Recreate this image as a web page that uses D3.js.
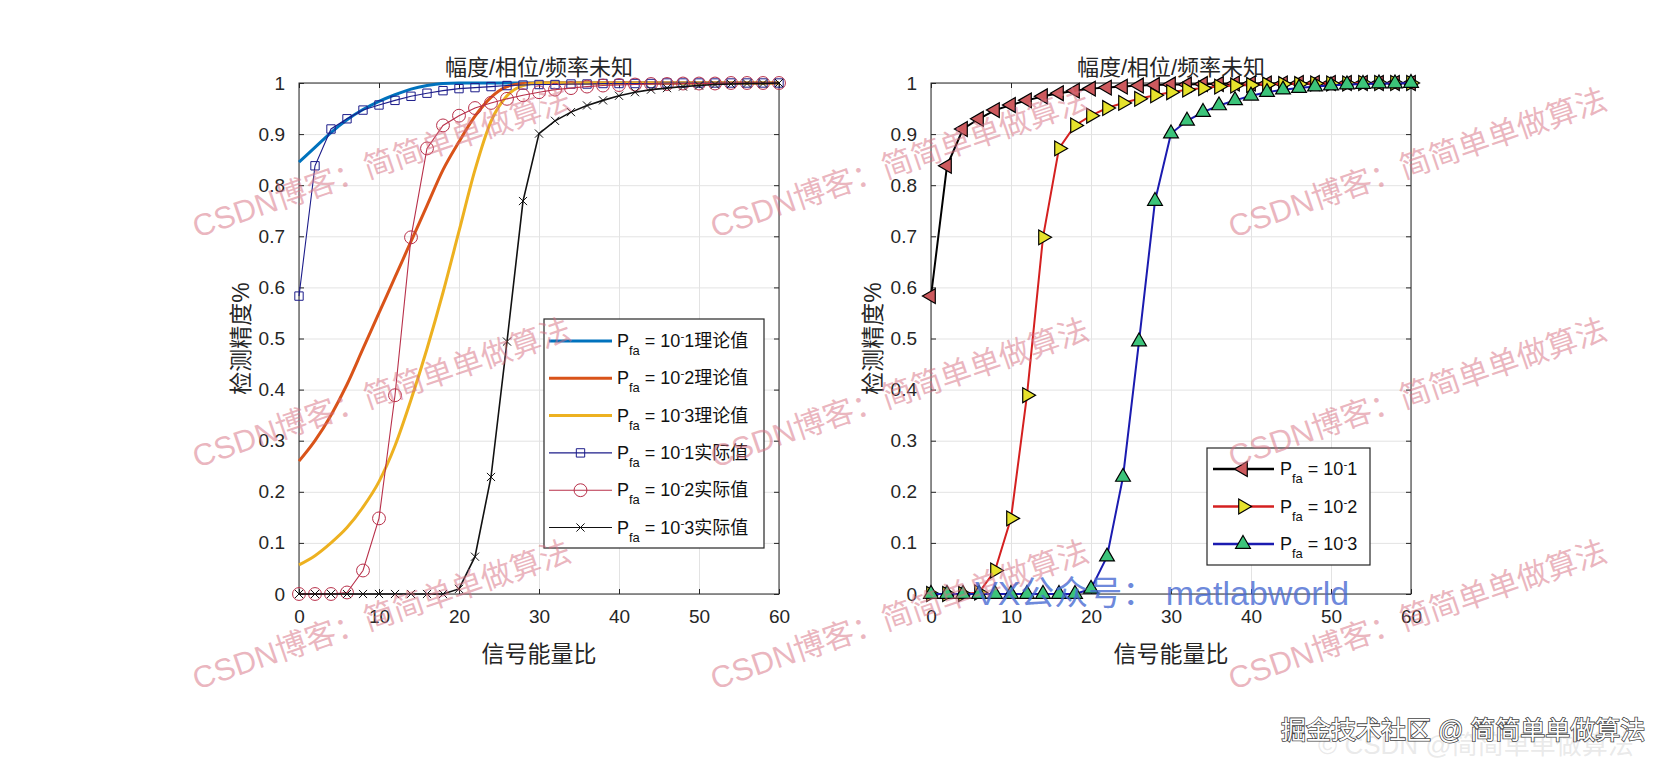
<!DOCTYPE html>
<html>
<head>
<meta charset="utf-8">
<script src="https://cdn.jsdelivr.net/npm/d3@7"></script>
<style>
  body { margin: 0; background: #fff; }
  svg text { font-family: "Liberation Sans", Arial, "Noto Sans CJK SC", sans-serif; }
</style>
</head>
<body>
<svg id="fig" width="1662" height="766"></svg>
<script>
// eje x: relacion de energia de la señal (cada 2 unidades)
const snr = [0, 2, 4, 6, 8, 10, 12, 14, 16, 18, 20, 22, 24, 26, 28, 30,
             32, 34, 36, 38, 40, 42, 44, 46, 48, 50, 52, 54, 56, 58, 60]
const xTicks = [0, 10, 20, 30, 40, 50, 60]
const yTicks = [0, 0.1, 0.2, 0.3, 0.4, 0.5, 0.6, 0.7, 0.8, 0.9, 1]

// curvas teoricas
const teoPfa1 = [0.845, 0.874, 0.903, 0.928, 0.948, 0.964, 0.977, 0.988, 0.995, 0.999, 1, 1, 1, 1, 1, 1,
                 1, 1, 1, 1, 1, 1, 1, 1, 1, 1, 1, 1, 1, 1, 1]
const teoPfa2 = [0.26, 0.30, 0.35, 0.41, 0.48, 0.55, 0.62, 0.69, 0.76, 0.83, 0.885, 0.935, 0.972, 0.993, 0.999, 1,
                 1, 1, 1, 1, 1, 1, 1, 1, 1, 1, 1, 1, 1, 1, 1]
const teoPfa3 = [0.057, 0.075, 0.10, 0.13, 0.17, 0.22, 0.29, 0.38, 0.48, 0.59, 0.71, 0.83, 0.925, 0.975, 0.995, 1,
                 1, 1, 1, 1, 1, 1, 1, 1, 1, 1, 1, 1, 1, 1, 1]

// valores reales (simulacion)
const realPfa1 = [0.583, 0.838, 0.910, 0.930, 0.947, 0.957, 0.966, 0.974, 0.980, 0.985, 0.989, 0.991, 0.993, 0.995, 0.996, 0.997,
                  0.997, 0.998, 0.998, 0.999, 0.999, 0.999, 0.999, 1, 1, 1, 1, 1, 1, 1, 1]
const realPfa2 = [0, 0, 0, 0.003, 0.046, 0.148, 0.389, 0.698, 0.872, 0.917, 0.936, 0.951, 0.961, 0.969, 0.976, 0.982,
                  0.987, 0.990, 0.993, 0.995, 0.996, 0.997, 0.998, 0.998, 0.999, 0.999, 0.999, 1, 1, 1, 1]
const realPfa3 = [0, 0, 0, 0, 0, 0, 0, 0, 0, 0, 0.010, 0.073, 0.229, 0.494, 0.769, 0.901,
                  0.926, 0.943, 0.956, 0.966, 0.975, 0.982, 0.987, 0.990, 0.993, 0.995, 0.997, 0.998, 0.999, 0.999, 1]

const exponentes = ["1", "2", "3"]
const titulo = "幅度/相位/频率未知"
const etiquetaX = "信号能量比"
const etiquetaY = "检测精度%"

const svg = d3.select("#fig")

const alto = 511
const ancho = 480
const top0 = 83

// dibuja un eje estilo matlab (caja, rejilla, ticks hacia dentro)
function dibujaEjes(left) {
  const x = d3.scaleLinear().domain([0, 60]).range([0, ancho])
  const y = d3.scaleLinear().domain([0, 1]).range([alto, 0])
  const g = svg.append("g").attr("transform", `translate(${left}, ${top0})`)

  // rejilla
  g.append("g")
    .attr("transform", `translate(0, ${alto})`)
    .call(d3.axisBottom(x).tickValues(xTicks).tickSize(-alto).tickFormat(""))
    .call(s => s.select(".domain").remove())
    .selectAll("line").attr("stroke", "#e3e3e3")
  g.append("g")
    .call(d3.axisLeft(y).tickValues(yTicks).tickSize(-ancho).tickFormat(""))
    .call(s => s.select(".domain").remove())
    .selectAll("line").attr("stroke", "#e3e3e3")

  // caja
  g.append("rect")
    .attr("width", ancho).attr("height", alto)
    .attr("fill", "none").attr("stroke", "#262626").attr("stroke-width", 1)

  const xAxis = g.append("g")
    .attr("transform", `translate(0, ${alto})`)
    .call(d3.axisBottom(x).tickValues(xTicks).tickSize(-5).tickPadding(16))
  const xTop = g.append("g")
    .call(d3.axisTop(x).tickValues(xTicks).tickSize(-5).tickFormat(""))
  const yAxis = g.append("g")
    .call(d3.axisLeft(y).tickValues(yTicks).tickSize(-5).tickPadding(14).tickFormat(d => String(d)))
  const yRight = g.append("g")
    .attr("transform", `translate(${ancho}, 0)`)
    .call(d3.axisRight(y).tickValues(yTicks).tickSize(-5).tickFormat(""))

  ;[xAxis, xTop, yAxis, yRight].forEach(a => {
    a.select(".domain").remove()
    a.selectAll("line").attr("stroke", "#262626")
    a.selectAll("text").attr("fill", "#262626").style("font-size", "19px")
  })

  g.append("text")
    .attr("x", ancho / 2).attr("y", -8)
    .attr("text-anchor", "middle")
    .attr("fill", "#262626")
    .style("font-size", "22px")
    .text(titulo)
  g.append("text")
    .attr("x", ancho / 2).attr("y", alto + 68)
    .attr("text-anchor", "middle")
    .attr("fill", "#262626")
    .style("font-size", "23px")
    .text(etiquetaX)
  g.append("text")
    .attr("transform", `translate(-50, ${alto / 2}) rotate(-90)`)
    .attr("text-anchor", "middle")
    .attr("fill", "#262626")
    .style("font-size", "23px")
    .text(etiquetaY)

  return { g, x, y }
}

// texto P_fa = 10^-n + sufijo
function textoPfa(sel, n, sufijo, size) {
  const t = sel.append("text").attr("fill", "#111").style("font-size", size + "px")
  t.append("tspan").text("P")
  t.append("tspan").attr("dy", 8).style("font-size", (size * 0.72) + "px").text("fa")
  t.append("tspan").attr("dy", -8).text(" = 10")
  t.append("tspan").attr("dy", -7).style("font-size", (size * 0.65) + "px").text("-")
  t.append("tspan").attr("dy", 7).text(n + sufijo)
  return t
}

function marcador(tipo, size) {
  return d3.symbol().type(tipo).size(size)()
}

// ---------- grafica izquierda ----------
const izq = dibujaEjes(299)

const curva = d3.line().x((d, i) => izq.x(snr[i])).y(d => izq.y(d)).curve(d3.curveMonotoneX)
const recta = d3.line().x((d, i) => izq.x(snr[i])).y(d => izq.y(d))

const teoricas = [
  { datos: teoPfa1, color: "#0072BD" },
  { datos: teoPfa2, color: "#D95319" },
  { datos: teoPfa3, color: "#EDB120" }
]
teoricas.forEach(s => {
  izq.g.append("path").datum(s.datos)
    .attr("d", curva).attr("fill", "none")
    .attr("stroke", s.color).attr("stroke-width", 3)
})

const reales = [
  { datos: realPfa1, color: "#1c1c8a", tipo: d3.symbolSquare, size: 70, grosor: 1.1 },
  { datos: realPfa2, color: "#b8304a", tipo: d3.symbolCircle, size: 130, grosor: 1.1 },
  { datos: realPfa3, color: "#111111", tipo: d3.symbolX, size: 45, grosor: 1.6 }
]
reales.forEach(s => {
  izq.g.append("path").datum(s.datos)
    .attr("d", recta).attr("fill", "none")
    .attr("stroke", s.color).attr("stroke-width", s.grosor)
  izq.g.selectAll(null).data(s.datos).enter().append("path")
    .attr("transform", (d, i) => `translate(${izq.x(snr[i])}, ${izq.y(d)})`)
    .attr("d", marcador(s.tipo, s.size))
    .attr("fill", "none").attr("stroke", s.color).attr("stroke-width", 1)
})

// leyenda izquierda
const leyIzq = svg.append("g").attr("transform", "translate(544, 319)")
leyIzq.append("rect").attr("width", 220).attr("height", 229)
  .attr("fill", "#fff").attr("stroke", "#262626").attr("stroke-width", 1.2)
const filasIzq = teoricas.map((s, i) => ({ color: s.color, ancho: 3, n: exponentes[i], suf: "理论值" }))
  .concat(reales.map((s, i) => ({ color: s.color, ancho: 1.1, n: exponentes[i], suf: "实际值", tipo: s.tipo, size: s.size })))
filasIzq.forEach((f, i) => {
  const cy = 22 + i * 37.3
  leyIzq.append("line").attr("x1", 5).attr("x2", 68).attr("y1", cy).attr("y2", cy)
    .attr("stroke", f.color).attr("stroke-width", f.ancho)
  if (f.tipo) {
    leyIzq.append("path").attr("transform", `translate(36.5, ${cy})`)
      .attr("d", marcador(f.tipo, f.size))
      .attr("fill", "none").attr("stroke", f.color)
  }
  textoPfa(leyIzq, f.n, f.suf, 18).attr("x", 73).attr("y", cy + 6)
})

// ---------- grafica derecha ----------
const der = dibujaEjes(931)
const rectaDer = d3.line().x((d, i) => der.x(snr[i])).y(d => der.y(d))

const triIzq = "rotate(-90)", triDer = "rotate(90)", triArr = ""
const seriesDer = [
  { datos: realPfa1, linea: "#000000", relleno: "#cd5a5e", rot: triIzq },
  { datos: realPfa2, linea: "#d42020", relleno: "#e6e22c", rot: triDer },
  { datos: realPfa3, linea: "#1b1bb0", relleno: "#3cc47a", rot: triArr }
]
seriesDer.forEach(s => {
  der.g.append("path").datum(s.datos)
    .attr("d", rectaDer).attr("fill", "none")
    .attr("stroke", s.linea).attr("stroke-width", 2)
  der.g.selectAll(null).data(s.datos).enter().append("path")
    .attr("transform", (d, i) => `translate(${der.x(snr[i])}, ${der.y(d)}) ${s.rot}`)
    .attr("d", marcador(d3.symbolTriangle, 95))
    .attr("fill", s.relleno).attr("stroke", "#000").attr("stroke-width", 1.2)
})

const leyDer = svg.append("g").attr("transform", "translate(1207, 448)")
leyDer.append("rect").attr("width", 163).attr("height", 117)
  .attr("fill", "#fff").attr("stroke", "#262626").attr("stroke-width", 1.2)
seriesDer.forEach((s, i) => {
  const cy = 21 + i * 37.5
  leyDer.append("line").attr("x1", 6).attr("x2", 67).attr("y1", cy).attr("y2", cy)
    .attr("stroke", s.linea).attr("stroke-width", 2.5)
  leyDer.append("path").attr("transform", `translate(36, ${cy}) ${s.rot}`)
    .attr("d", marcador(d3.symbolTriangle, 95))
    .attr("fill", s.relleno).attr("stroke", "#000").attr("stroke-width", 1.2)
  textoPfa(leyDer, exponentes[i], "", 18).attr("x", 73).attr("y", cy + 6)
})

// ---------- marcas de agua ----------
const marcas = svg.append("g").attr("pointer-events", "none")
const filasMarca = [238, 468, 690]
const colsMarca = [197, 715, 1233]
filasMarca.forEach(fy => colsMarca.forEach(cx => {
  marcas.append("text")
    .attr("transform", `translate(${cx}, ${fy}) rotate(-19)`)
    .attr("fill", "rgba(214, 110, 128, 0.5)")
    .style("font-size", "31px")
    .text("CSDN博客：简简单单做算法")
}))

marcas.append("text")
  .attr("x", 975).attr("y", 605)
  .attr("fill", "rgba(70, 105, 210, 0.8)")
  .style("font-size", "34px")
  .text("VX公众号：  matlabworld")

marcas.append("text")
  .attr("x", 1318).attr("y", 754)
  .attr("fill", "rgba(200, 200, 200, 0.4)")
  .style("font-size", "26px")
  .text("© CSDN @简简单单做算法")
marcas.append("text")
  .attr("x", 1281).attr("y", 739)
  .attr("fill", "#fff")
  .attr("stroke", "#444").attr("stroke-width", 1.6)
  .attr("paint-order", "stroke")
  .style("font-size", "25px")
  .text("掘金技术社区 @ 简简单单做算法")
</script>
</body>
</html>
